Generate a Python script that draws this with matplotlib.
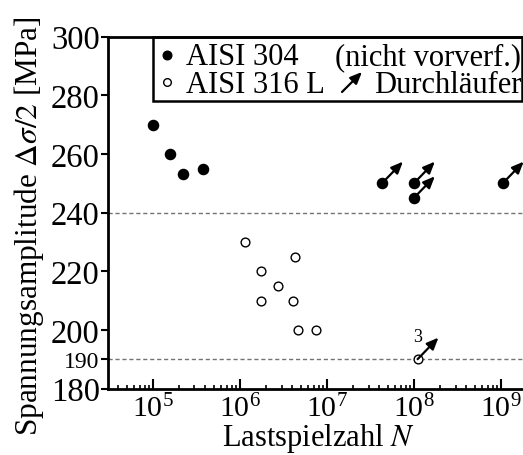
import numpy as np
import matplotlib
matplotlib.use("Agg")
import matplotlib.pyplot as plt
from matplotlib.transforms import offset_copy
from matplotlib.patches import Rectangle, FancyArrowPatch
from matplotlib.ticker import LogLocator, LogFormatterMathtext, NullFormatter

plt.rcParams['font.family'] = ['Liberation Serif', 'DejaVu Serif']
plt.rcParams['mathtext.fontset'] = 'stix'

# ----- data ----- #
# AISI 304 (filled), broken specimens
n_304 = [1.0e5, 1.55e5, 2.2e5, 3.8e5]
s_304 = [270, 260, 253, 255]
# AISI 304 run-outs (Durchlaeufer)
n_304_ro = [4.3e7, 1.0e8, 1.0e8, 1.05e9]
s_304_ro = [250, 250, 245, 250]
# AISI 316 L (open), broken specimens
n_316 = [1.14e6, 1.74e6, 1.74e6, 2.74e6, 4.26e6, 4.1e6, 4.6e6, 7.4e6]
s_316 = [230, 220, 210, 215, 225, 210, 200, 200]
# AISI 316 L run-out (3 specimens)
n_316_ro = [1.1e8]
s_316_ro = [190]
ro_count = ["3"]

limits = [240, 190]
yticks = [180, 190, 200, 220, 240, 260, 280, 300]

# ----- figure ----- #
fig = plt.figure(figsize=(5.23, 4.56), dpi=100)
ax = fig.add_axes([108/523, 1 - 389.5/456, 420/523, 352/456])
ax.set_xscale('log')
ax.set_xlim(10**4.483, 10**9.31)
ax.set_ylim(180, 300)

for y in limits:
    ax.axhline(y, color='0.45', lw=1.0, ls=(0, (3, 2)), zorder=1)

ax.plot(n_304, s_304, 'o', color='k', ms=7.3, zorder=3)
ax.plot(n_304_ro, s_304_ro, 'o', color='k', ms=7.3, zorder=3)
ax.plot(n_316, s_316, 'o', mfc='white', mec='k', mew=1.0, ms=6.3, zorder=3)
ax.plot(n_316_ro, s_316_ro, 'o', mfc='white', mec='k', mew=1.0, ms=6.3, zorder=3)

# run-out arrows
tip = offset_copy(ax.transData, fig, x=15, y=15.5, units='points')
aprops = dict(arrowstyle='-|>,head_length=0.7,head_width=0.3', color='k', lw=1.6,
              shrinkA=0, shrinkB=0)
for x, y in zip(n_304_ro + n_316_ro, s_304_ro + s_316_ro):
    ax.annotate('', xy=(x, y), xycoords=tip, xytext=(x, y), textcoords='data',
                arrowprops=aprops, zorder=4)
for x, y, t in zip(n_316_ro, s_316_ro, ro_count):
    ax.annotate(t, xy=(x, y), xytext=(0, 10), textcoords='offset points',
                ha='center', va='bottom', fontsize=13)

# axes styling
ax.spines['right'].set_visible(False)
for s in ['left', 'bottom', 'top']:
    ax.spines[s].set_linewidth(2.0)
ax.set_yticks(yticks)
ax.set_yticklabels([str(v) for v in yticks])
for lab, v in zip(ax.get_yticklabels(), yticks):
    lab.set_fontsize(17 if v == 190 else 23.5)
ax.tick_params(axis='y', direction='out', length=5, width=1.5, pad=1, right=False)
ax.xaxis.set_major_locator(LogLocator(base=10, numticks=12))
ax.xaxis.set_major_formatter(LogFormatterMathtext())
ax.xaxis.set_minor_locator(LogLocator(base=10, subs=np.arange(2, 10), numticks=12))
ax.xaxis.set_minor_formatter(NullFormatter())
ax.tick_params(axis='x', which='major', direction='in', length=7, width=1.5,
               labelsize=21.5, pad=4, top=False)
ax.tick_params(axis='x', which='minor', direction='in', length=3, width=1.2, top=False)

ax.set_xlabel('Lastspielzahl $N$', fontsize=22, labelpad=-1)
ax.set_ylabel(r'Spannungsamplitude $\Delta\sigma/2$ [MPa]', fontsize=22.5)
ax.yaxis.set_label_coords(-0.148, 0.463)

# legend box (drawn by hand, in figure pixels)
fx = lambda px: px / 523
fy = lambda py: 1 - py / 456
fig.patches.append(Rectangle((fx(153), fy(101.5)), fx(522) - fx(153), fy(37.5) - fy(101.5),
                             transform=fig.transFigure, fill=False, lw=1.8,
                             edgecolor='k', zorder=5))
fig.lines.append(plt.Line2D([fx(167)], [fy(56)], marker='o', color='k', ms=6.2,
                            transform=fig.transFigure))
fig.lines.append(plt.Line2D([fx(167)], [fy(82.5)], marker='o', mfc='white', mec='k',
                            mew=1.0, ms=5.5, transform=fig.transFigure))
leg_fs = 22
fig.text(fx(186), fy(65), 'AISI 304', fontsize=leg_fs, va='baseline')
fig.text(fx(521), fy(65), '(nicht vorverf.)', fontsize=leg_fs, va='baseline', ha='right')
fig.text(fx(186), fy(93), 'AISI 316 L', fontsize=leg_fs, va='baseline')
fig.text(fx(521), fy(93), 'Durchläufer', fontsize=leg_fs, va='baseline', ha='right')
fig.patches.append(FancyArrowPatch(
    (fx(342), fy(93)), (fx(362), fy(73)), transform=fig.transFigure,
    arrowstyle='-|>,head_length=0.7,head_width=0.3', color='k', lw=1.6,
    mutation_scale=10, shrinkA=0, shrinkB=0))

fig.savefig('out.png', dpi=100)
